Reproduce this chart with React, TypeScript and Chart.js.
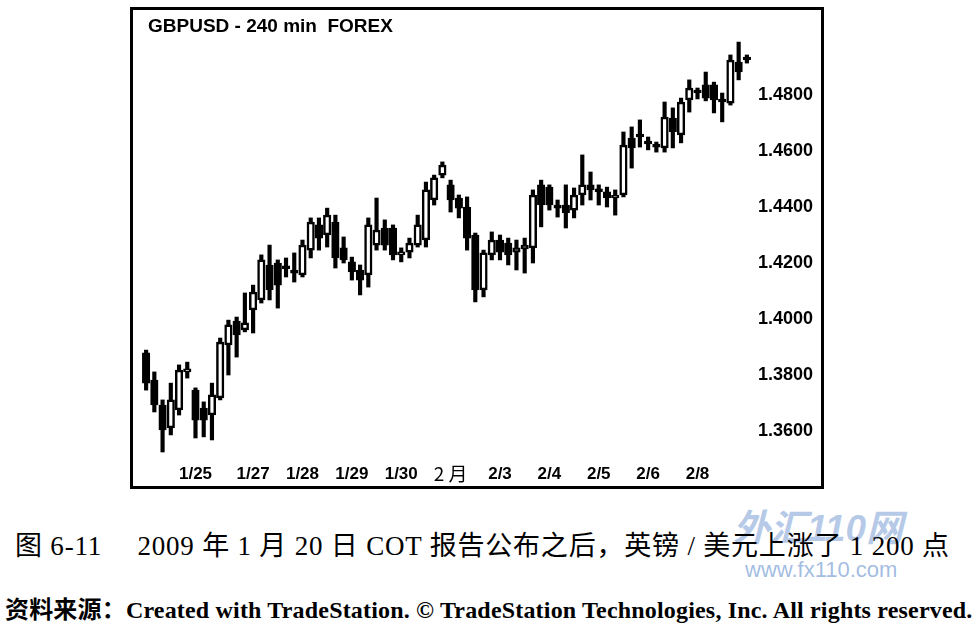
import React, { useEffect, useRef } from 'react';
import { Chart, registerables } from 'chart.js';

Chart.register(...registerables);

// 240-minute GBPUSD candles
const opens = [
  1.3879, 1.3782, 1.3693, 1.3611, 1.3675, 1.3811, 1.3746, 1.3682, 1.3657, 1.3718,
  1.3907, 1.3993, 1.3961, 1.4032, 1.4068, 1.4193, 1.4200, 1.4182, 1.4175, 1.4157,
  1.4246, 1.4336, 1.4300, 1.4346, 1.4254, 1.4204, 1.4175, 1.4157, 1.4264, 1.4325,
  1.4325, 1.4229, 1.4239, 1.4264, 1.4282, 1.4425, 1.4514, 1.4479, 1.4432, 1.4400,
  1.4300, 1.4104, 1.4229, 1.4282, 1.4271, 1.4239, 1.4250, 1.4254, 1.4479, 1.4471,
  1.4407, 1.4407, 1.4389, 1.4443, 1.4479, 1.4461, 1.4454, 1.4432, 1.4443, 1.4646,
  1.4657, 1.4632, 1.4621, 1.4611, 1.4718, 1.4657, 1.4782, 1.4814, 1.4836, 1.4836,
  1.4782, 1.4771, 1.4918, 1.4932,
];
const highs = [
  1.3889, 1.3811, 1.3711, 1.3771, 1.3836, 1.3846, 1.3754, 1.3704, 1.3771, 1.3932,
  1.3996, 1.4007, 1.4093, 1.4121, 1.4229, 1.4264, 1.4211, 1.4218, 1.4236, 1.4282,
  1.4361, 1.4361, 1.4396, 1.4371, 1.4293, 1.4221, 1.4193, 1.4361, 1.4432, 1.4354,
  1.4336, 1.4254, 1.4289, 1.4371, 1.4489, 1.4514, 1.4561, 1.4496, 1.4443, 1.4436,
  1.4307, 1.4246, 1.4311, 1.4300, 1.4289, 1.4282, 1.4289, 1.4461, 1.4496, 1.4479,
  1.4425, 1.4479, 1.4468, 1.4586, 1.4525, 1.4479, 1.4471, 1.4461, 1.4668, 1.4686,
  1.4711, 1.4650, 1.4632, 1.4775, 1.4754, 1.4789, 1.4854, 1.4825, 1.4882, 1.4846,
  1.4807, 1.4943, 1.4989, 1.4943,
];
const lows = [
  1.3746, 1.3668, 1.3525, 1.3586, 1.3657, 1.3789, 1.3575, 1.3579, 1.3568, 1.3711,
  1.3800, 1.3864, 1.3954, 1.3950, 1.4057, 1.4068, 1.4039, 1.4150, 1.4132, 1.4150,
  1.4218, 1.4246, 1.4257, 1.4182, 1.4200, 1.4139, 1.4086, 1.4114, 1.4246, 1.4246,
  1.4211, 1.4204, 1.4218, 1.4257, 1.4257, 1.4407, 1.4504, 1.4382, 1.4361, 1.4246,
  1.4061, 1.4079, 1.4211, 1.4211, 1.4193, 1.4175, 1.4164, 1.4200, 1.4329, 1.4389,
  1.4364, 1.4325, 1.4361, 1.4407, 1.4425, 1.4407, 1.4400, 1.4371, 1.4436, 1.4539,
  1.4614, 1.4604, 1.4596, 1.4596, 1.4611, 1.4629, 1.4739, 1.4786, 1.4779, 1.4736,
  1.4704, 1.4764, 1.4854, 1.4914,
];
const closes = [
  1.3771, 1.3693, 1.3604, 1.3711, 1.3818, 1.3818, 1.3639, 1.3639, 1.3729, 1.3918,
  1.3979, 1.3943, 1.3986, 1.4096, 1.4211, 1.4104, 1.4121, 1.4179, 1.4164, 1.4264,
  1.4346, 1.4289, 1.4371, 1.4218, 1.4211, 1.4168, 1.4139, 1.4336, 1.4318, 1.4264,
  1.4229, 1.4232, 1.4271, 1.4336, 1.4461, 1.4504, 1.4550, 1.4425, 1.4396, 1.4289,
  1.4104, 1.4236, 1.4282, 1.4239, 1.4229, 1.4254, 1.4264, 1.4443, 1.4407, 1.4407,
  1.4396, 1.4379, 1.4443, 1.4479, 1.4461, 1.4454, 1.4432, 1.4443, 1.4621, 1.4611,
  1.4650, 1.4625, 1.4614, 1.4721, 1.4668, 1.4775, 1.4825, 1.4807, 1.4789, 1.4782,
  1.4775, 1.4925, 1.4882, 1.4925,
];

// day labels and the bar each one sits under
const dayLabels = ['1/25', '1/27', '1/28', '1/29', '1/30', '2 月', '2/3', '2/4', '2/5', '2/6', '2/8'];
const dayLabelBar = [6, 13, 19, 25, 31, 37, 43, 49, 55, 61, 67];

const yTicks = [1.36, 1.38, 1.4, 1.42, 1.44, 1.46, 1.48];
const yMin = 1.35;
const yMax = 1.5;

const chartTitle = 'GBPUSD - 240 min  FOREX';
const captionText = '图 6-11\u2003 2009 年 1 月 20 日 COT 报告公布之后，英镑 / 美元上涨了 1 200 点';
const sourceLabel = '资料来源：';
const sourceText = 'Created with TradeStation. © TradeStation Technologies, Inc. All rights reserved.';

export default function App() {
  const ref = useRef<HTMLCanvasElement>(null);

  useEffect(() => {
    const categories = opens.map((_, i) => {
      const k = dayLabelBar.indexOf(i);
      return k >= 0 ? dayLabels[k] : '';
    });
    const wick = lows.map((l, i) => [l, highs[i]]);
    const body = opens.map((o, i) => [Math.min(o, closes[i]), Math.max(o, closes[i])]);
    const bodyFill = opens.map((o, i) => (closes[i] >= o ? '#ffffff' : '#000000'));

    const titlePlugin = {
      id: 'boxTitle',
      afterDraw(chart: any) {
        const c = chart.ctx;
        c.save();
        c.font = 'bold 19px "Liberation Sans"';
        c.fillStyle = '#000';
        c.textBaseline = 'middle';
        c.textAlign = 'left';
        c.fillText(chartTitle, 15, 17);
        c.restore();
      },
    };

    const chart = new Chart(ref.current as HTMLCanvasElement, {
      type: 'bar',
      data: {
        labels: categories,
        datasets: [
          {
            data: body as any,
            backgroundColor: bodyFill,
            borderColor: '#000',
            borderWidth: 2.5,
            borderSkipped: false,
            barThickness: 7.5,
            grouped: false,
            order: 0,
            minBarLength: 3,
          } as any,
          {
            data: wick as any,
            backgroundColor: '#000',
            borderWidth: 0,
            barThickness: 3.5,
            grouped: false,
            order: 1,
          } as any,
        ],
      },
      options: {
        animation: false,
        responsive: false,
        maintainAspectRatio: false,
        layout: { padding: { left: 9, right: 0, top: 29, bottom: 0 } },
        plugins: {
          legend: { display: false },
          tooltip: { enabled: false },
          title: { display: false },
        },
        scales: {
          x: {
            offset: true,
            grid: { display: false, drawTicks: false },
            border: { display: false },
            ticks: {
              autoSkip: false,
              maxRotation: 0,
              minRotation: 0,
              padding: 5,
              color: '#000',
              font: (ctx: any) =>
                ctx.tick && ctx.tick.label === '2 月'
                  ? { family: '"Noto Sans CJK SC"', size: 19, weight: 'normal', lineHeight: 1 }
                  : { family: '"Liberation Sans"', size: 17, weight: 'bold', lineHeight: 1.2 },
            },
            afterFit: (s: any) => {
              s.height = 27;
            },
          } as any,
          y: {
            position: 'right',
            min: yMin,
            max: yMax,
            grid: { display: false, drawTicks: false },
            border: { display: false },
            ticks: {
              padding: 7,
              color: '#000',
              font: { family: '"Liberation Sans"', size: 18, weight: 'bold' },
              callback: (v: any) => Number(v).toFixed(4),
            },
            afterBuildTicks: (s: any) => {
              s.ticks = yTicks.map((v) => ({ value: v }));
            },
            afterFit: (s: any) => {
              s.width = 70;
            },
          } as any,
        },
      },
      plugins: [titlePlugin],
    });
    return () => chart.destroy();
  }, []);

  return (
    <div style={{ position: 'absolute', left: 0, top: 0, width: 975, height: 628, background: '#fff', overflow: 'hidden' }}>
      <div
        style={{
          position: 'absolute',
          left: 130,
          top: 7,
          width: 694,
          height: 482,
          border: '3px solid #000',
          boxSizing: 'border-box',
        }}
      >
        <canvas ref={ref} width={688} height={476} style={{ display: 'block', width: 688, height: 476 }} />
      </div>
      <div
        style={{
          position: 'absolute',
          left: 733,
          top: 510,
          fontFamily: '"Liberation Sans", "Noto Sans CJK SC"',
          fontWeight: 'bold',
          fontStyle: 'italic',
          fontSize: 37,
          color: 'rgba(110,150,210,0.5)',
          whiteSpace: 'nowrap',
          lineHeight: 1,
        }}
      >
        外汇110网
      </div>
      <div
        style={{
          position: 'absolute',
          left: 745,
          top: 559,
          fontFamily: '"Liberation Sans"',
          fontSize: 22,
          color: 'rgba(110,150,210,0.65)',
          whiteSpace: 'nowrap',
          lineHeight: 1,
        }}
      >
        www.fx110.com
      </div>
      <div
        style={{
          position: 'absolute',
          left: 15,
          top: 533,
          fontFamily: '"Liberation Serif", "Noto Sans CJK SC"',
          fontSize: 27,
          letterSpacing: '0.8px',
          color: '#000',
          whiteSpace: 'pre',
          lineHeight: 1,
        }}
      >
        {captionText}
      </div>
      <div
        style={{
          position: 'absolute',
          left: 5,
          top: 598,
          fontFamily: '"Liberation Serif", "Noto Sans CJK SC"',
          fontSize: 24,
          fontWeight: 'bold',
          letterSpacing: '0.18px',
          color: '#000',
          whiteSpace: 'pre',
          lineHeight: 1,
        }}
      >
        <span>{sourceLabel}</span>
        <span>{sourceText}</span>
      </div>
    </div>
  );
}
